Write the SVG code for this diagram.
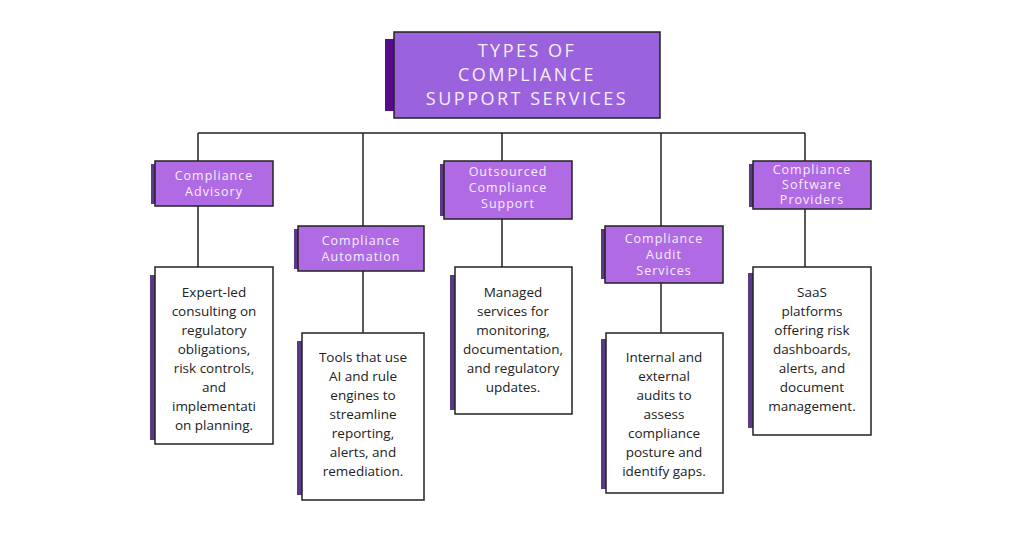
<svg xmlns="http://www.w3.org/2000/svg" width="1024" height="538" viewBox="0 0 1024 538">
<style>
.hd{fill:#b06be4;stroke:#222;stroke-width:1.5}
.ds{fill:#fff;stroke:#222;stroke-width:1.5}
.ac{fill:#5b3a85}
.ht{font-family:"Open Sans",sans-serif;font-size:12.5px;fill:#f6eeff;text-anchor:middle;letter-spacing:1px}
.dt{font-family:"Open Sans",sans-serif;font-size:13.5px;fill:#222;text-anchor:middle}
.ln{stroke:#222;stroke-width:1.5;fill:none}
</style>
<rect width="1024" height="538" fill="#fff"/>
<g id="connectors">
<path class="ln" d="M198 133H805M198 133V267M363 133V333M502 133V267M661 133V333M805 133V267"/>
</g>
<g id="title">
<rect x="385" y="39" width="10" height="72" fill="#560c8c"/>
<rect x="394" y="32" width="266" height="86" fill="#9a62dc" stroke="#222" stroke-width="1.5"/>
<text font-family="'Open Sans',sans-serif" font-size="18" fill="#f6eeff" text-anchor="middle" letter-spacing="2.5"><tspan x="527" y="57">TYPES OF</tspan><tspan x="527" y="81">COMPLIANCE</tspan><tspan x="527" y="105">SUPPORT SERVICES</tspan></text>
</g>
<g id="h1"><rect class="ac" x="151" y="164" width="5" height="40"/><rect class="hd" x="155" y="161" width="118" height="45"/><text class="ht"><tspan x="214" y="180">Compliance</tspan><tspan x="214" y="196">Advisory</tspan></text></g>
<g id="h2"><rect class="ac" x="294" y="229" width="5" height="40"/><rect class="hd" x="298" y="226" width="126" height="45"/><text class="ht"><tspan x="361" y="245">Compliance</tspan><tspan x="361" y="261">Automation</tspan></text></g>
<g id="h3"><rect class="ac" x="440" y="164" width="5" height="52"/><rect class="hd" x="444" y="161" width="128" height="58"/><text class="ht"><tspan x="508" y="176">Outsourced</tspan><tspan x="508" y="192">Compliance</tspan><tspan x="508" y="208">Support</tspan></text></g>
<g id="h4"><rect class="ac" x="601" y="229" width="5" height="50"/><rect class="hd" x="605" y="226" width="118" height="57"/><text class="ht"><tspan x="664" y="243">Compliance</tspan><tspan x="664" y="259">Audit</tspan><tspan x="664" y="275">Services</tspan></text></g>
<g id="h5"><rect class="ac" x="749" y="164" width="5" height="43"/><rect class="hd" x="753" y="161" width="118" height="48"/><text class="ht"><tspan x="812" y="174">Compliance</tspan><tspan x="812" y="189">Software</tspan><tspan x="812" y="204">Providers</tspan></text></g>
<g id="d1"><rect class="ac" x="150" y="275" width="5" height="165"/><rect class="ds" x="155" y="267" width="118" height="177"/><text class="dt"><tspan x="214" y="297">Expert-led</tspan><tspan x="214" y="316">consulting on</tspan><tspan x="214" y="335">regulatory</tspan><tspan x="214" y="354">obligations,</tspan><tspan x="214" y="373">risk controls,</tspan><tspan x="214" y="392">and</tspan><tspan x="214" y="411">implementati</tspan><tspan x="214" y="430">on planning.</tspan></text></g>
<g id="d2"><rect class="ac" x="297" y="341" width="5" height="154"/><rect class="ds" x="302" y="333" width="122" height="167"/><text class="dt"><tspan x="363" y="362">Tools that use</tspan><tspan x="363" y="381">AI and rule</tspan><tspan x="363" y="400">engines to</tspan><tspan x="363" y="419">streamline</tspan><tspan x="363" y="438">reporting,</tspan><tspan x="363" y="457">alerts, and</tspan><tspan x="363" y="476">remediation.</tspan></text></g>
<g id="d3"><rect class="ac" x="450" y="275" width="5" height="135"/><rect class="ds" x="455" y="267" width="117" height="147"/><text class="dt"><tspan x="513" y="297">Managed</tspan><tspan x="513" y="316">services for</tspan><tspan x="513" y="335">monitoring,</tspan><tspan x="513" y="354">documentation,</tspan><tspan x="513" y="373">and regulatory</tspan><tspan x="513" y="392">updates.</tspan></text></g>
<g id="d4"><rect class="ac" x="601" y="339" width="5" height="150"/><rect class="ds" x="606" y="333" width="117" height="160"/><text class="dt"><tspan x="664" y="362">Internal and</tspan><tspan x="664" y="381">external</tspan><tspan x="664" y="400">audits to</tspan><tspan x="664" y="419">assess</tspan><tspan x="664" y="438">compliance</tspan><tspan x="664" y="457">posture and</tspan><tspan x="664" y="476">identify gaps.</tspan></text></g>
<g id="d5"><rect class="ac" x="748" y="273" width="5" height="155"/><rect class="ds" x="753" y="267" width="118" height="168"/><text class="dt"><tspan x="812" y="297">SaaS</tspan><tspan x="812" y="316">platforms</tspan><tspan x="812" y="335">offering risk</tspan><tspan x="812" y="354">dashboards,</tspan><tspan x="812" y="373">alerts, and</tspan><tspan x="812" y="392">document</tspan><tspan x="812" y="411">management.</tspan></text></g>
</svg>
